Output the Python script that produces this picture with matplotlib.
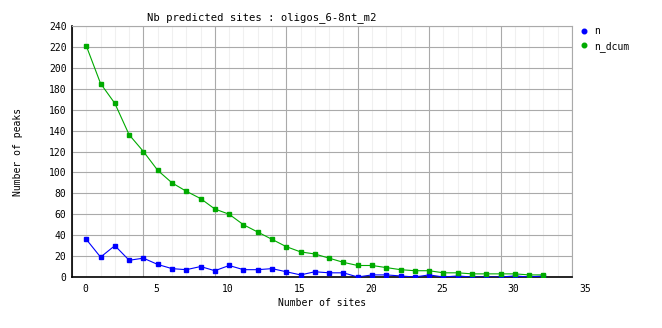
import matplotlib.pyplot as plt
from matplotlib.lines import Line2D
from matplotlib.ticker import MultipleLocator, FuncFormatter
from matplotlib.transforms import ScaledTranslation

# Nb predicted sites per peak, oligos_6-8nt_m2
sites = list(range(33))
n = [36, 19, 30, 16, 18, 12, 8, 7, 10, 6, 11, 7, 7, 8, 5, 2, 5, 4, 4, 0,
     2, 2, 1, 0, 2, 0, 1, 0, 0, 0, 1, 0, 1]
n_dcum = [221, 185, 166, 136, 120, 102, 90, 82, 75, 65, 60, 50, 43, 36, 29,
          24, 22, 18, 14, 11, 11, 9, 7, 6, 6, 4, 4, 3, 3, 3, 3, 2, 2]
series_names = ['n', 'n_dcum']
colors = ['#0000ff', '#00aa00']

plt.rcParams['font.family'] = 'DejaVu Sans Mono'
plt.rcParams['font.size'] = 7

fig = plt.figure(figsize=(6.62, 3.28), dpi=100)
ax = fig.add_axes([72 / 662, 1 - 277 / 328, 500 / 662, 251 / 328])

ax.plot(sites, n, color=colors[0], lw=0.8, marker='s', ms=2.3, zorder=3)
ax.plot(sites, n_dcum, color=colors[1], lw=0.8, marker='s', ms=2.3, zorder=3)

ax.set_xlim(-1, 34)
ax.set_ylim(0, 240)

# gridlines sit one unit left of the labels, like the original GD plot
ax.xaxis.set_major_locator(MultipleLocator(5, offset=-1))
ax.xaxis.set_minor_locator(MultipleLocator(1))
ax.xaxis.set_major_formatter(FuncFormatter(lambda v, p: f"{v + 1:.0f}"))
ax.yaxis.set_major_locator(MultipleLocator(20))

ax.grid(which='major', color='#aaaaaa', lw=0.8)
ax.grid(which='minor', axis='x', color='#f0f0f0', lw=0.8)
ax.set_axisbelow(True)

ax.tick_params(which='both', length=0)
ax.tick_params(axis='x', pad=5)
ax.tick_params(axis='y', pad=4)
shift = ScaledTranslation(13 / 100, 0, fig.dpi_scale_trans)
for lbl in ax.get_xticklabels():
    lbl.set_transform(lbl.get_transform() + shift)

for s in ['top', 'right']:
    ax.spines[s].set_color('#aaaaaa')
    ax.spines[s].set_linewidth(0.8)
for s in ['left', 'bottom']:
    ax.spines[s].set_color('black')
    ax.spines[s].set_linewidth(1.2)

fig.text(262 / 662, 1 - 18 / 328, 'Nb predicted sites : oligos_6-8nt_m2',
         ha='center', va='center', fontsize=7.6)
fig.text(322 / 662, 1 - 303 / 328, 'Number of sites', ha='center', va='center')
fig.text(18 / 662, 1 - 152 / 328, 'Number of peaks', ha='center', va='center',
         rotation=90)

handles = [Line2D([], [], ls='none', marker='o', ms=3.3, color=c) for c in colors]
fig.legend(handles, series_names, loc='upper left',
           bbox_to_anchor=(579 / 662, 1 - 26 / 328), frameon=False,
           handlelength=1.0, handletextpad=0.6, labelspacing=0.5,
           borderpad=0, borderaxespad=0)

fig.savefig('out.png', dpi=100)
